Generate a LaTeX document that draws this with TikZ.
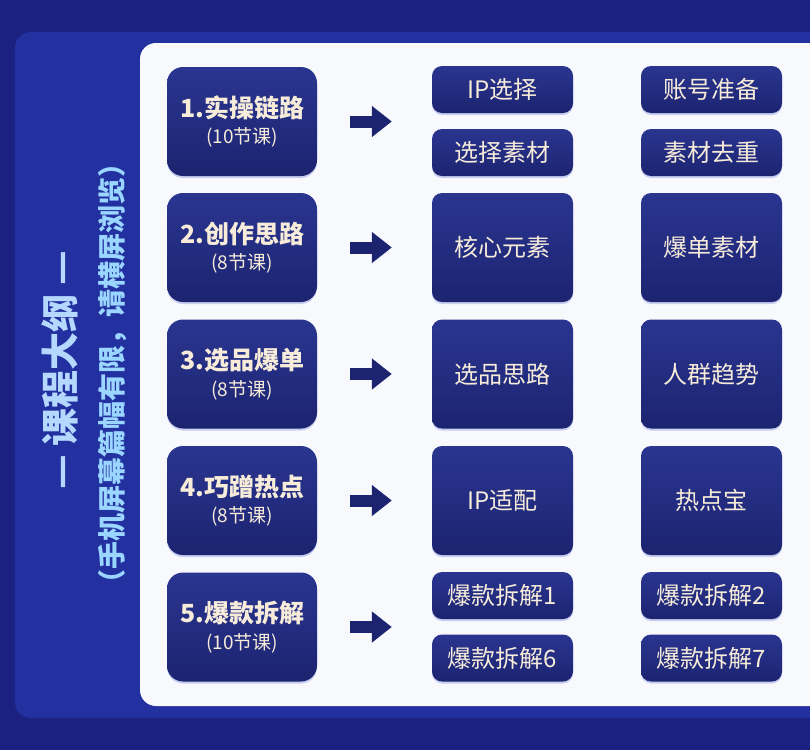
\documentclass[tikz,border=0pt]{standalone}
\usepackage{fontspec}
\setmainfont{Noto Sans CJK SC}
\usetikzlibrary{arrows.meta,shadows}
\definecolor{bgdark}{HTML}{1B2181}
\definecolor{panel}{HTML}{2331A0}
\definecolor{card}{HTML}{F8F9FD}
\definecolor{navy}{HTML}{1C2470}
\definecolor{navylight}{HTML}{2A3590}
\definecolor{cream}{HTML}{F7ECDA}
\definecolor{titleblue}{HTML}{B5D8FF}
\definecolor{subblue}{HTML}{9AD6FF}
\definecolor{glow}{HTML}{8C9BE0}

\begin{document}
\begin{tikzpicture}[x=1pt, y=-1pt,
  tbox/.style={rounded corners=10pt, top color=navylight, bottom color=navy,
    drop shadow={shadow xshift=0pt, shadow yshift=-2pt, opacity=0.45, fill=glow},
    text=cream, align=center, inner sep=0pt},
  chap/.style={tbox, rounded corners=16pt, minimum width=150pt, minimum height=109pt},
  item/.style={tbox, minimum width=141pt, minimum height=47pt, font=\fontsize{24}{28}\selectfont},
  bigitem/.style={item, minimum height=109pt},
  blockarrow/.style={navy, line width=12pt, -{Triangle[length=20pt, width=30pt]},
    shorten <=33pt, shorten >=40pt}]
\useasboundingbox (0,0) rectangle (810,750);
% === Background, panel and card ===
\fill[bgdark] (0,0) rectangle (810,750);
\fill[panel, rounded corners=16pt] (15,32) rectangle (850,718);
\fill[card, rounded corners=16pt] (140,43) rectangle (850,706);

% Vertical title
\node[rotate=90, text=titleblue, font=\fontsize{38}{40}\selectfont\bfseries] (title) at (60,370) {— 课程大纲 —};
\node[rotate=90, text=subblue, font=\fontsize{28}{30}\selectfont\bfseries] (note) at (113,373) {（手机屏幕篇幅有限，请横屏浏览）};

% === Chapters ===
\foreach \i/\y/\t/\n in {1/121.5/实操链路/10, 2/247.5/创作思路/8, 3/374/选品爆单/8, 4/500.5/巧蹭热点/8, 5/627/爆款拆解/10} {
  \node[chap] (L\i) at (242,\y) {{\fontsize{25}{30}\selectfont\bfseries \i.\t}\\[7pt]{\fontsize{19}{22}\selectfont ({\n}节课)}};
}

% === Lessons ===
% Row 1: four small boxes
\node[item] (M1) at (502.5,89.5) {IP选择};
\node[item] (M1b) at (502.5,152.5) {选择素材};
\node[item] (R1) at (711.5,89.5) {账号准备};
\node[item] (R1b) at (711.5,152.5) {素材去重};
% Rows 2-4: one big box per column
\foreach \i/\y/\a/\b in {2/247.5/核心元素/爆单素材, 3/374/选品思路/人群趋势, 4/500.5/IP适配/热点宝} {
  \node[bigitem] (M\i) at (502.5,\y) {\a};
  \node[bigitem] (R\i) at (711.5,\y) {\b};
}
% Row 5: four small boxes
\node[item] (M5) at (502.5,595.5) {爆款拆解1};
\node[item] (M5b) at (502.5,658) {爆款拆解6};
\node[item] (R5) at (711.5,595.5) {爆款拆解2};
\node[item] (R5b) at (711.5,658) {爆款拆解7};

% Arrows
\foreach \i in {1,...,5} {
  \draw[blockarrow] (L\i.east) -- (L\i.east -| M\i.west);
}
\end{tikzpicture}
\end{document}
